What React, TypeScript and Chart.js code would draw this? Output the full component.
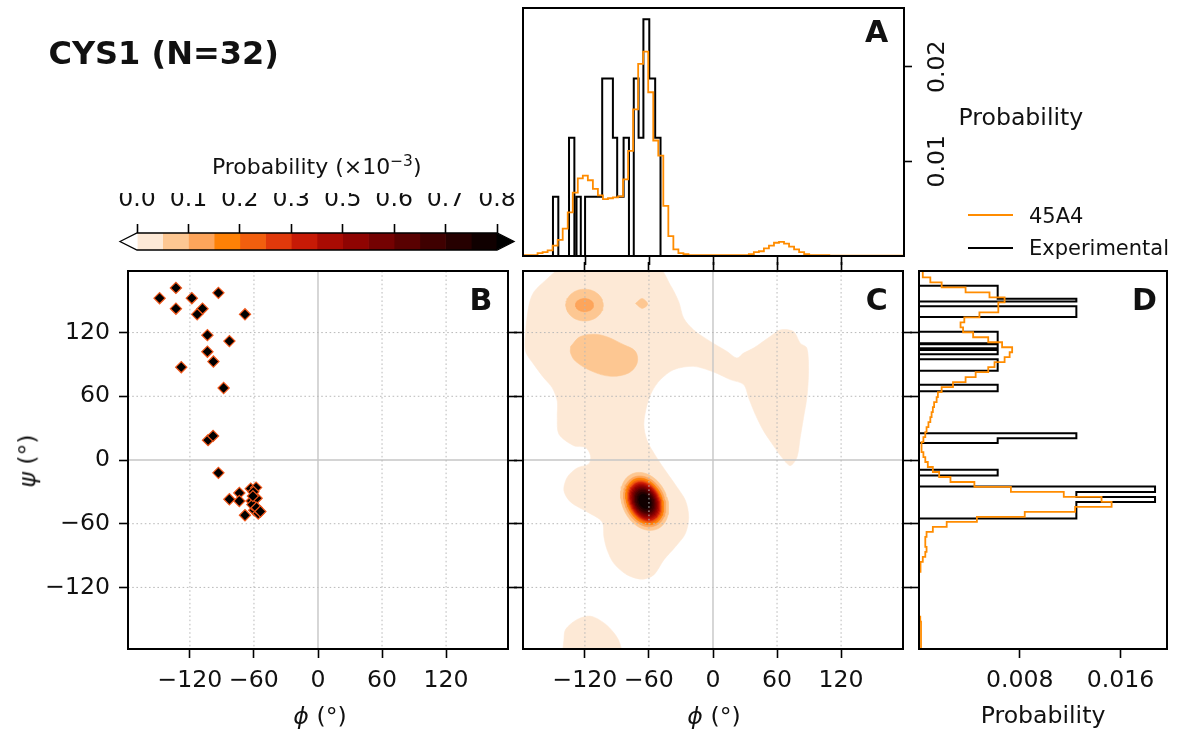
import React, { useEffect, useRef } from "react";
import { Chart, registerables } from "chart.js";

Chart.register(...registerables);

const FONT = "'DejaVu Sans', 'Noto Sans', sans-serif";
const PAGE_W = 1179;
const PAGE_H = 737;
const TEXT_SIZE = 23.6;

// ---------------- data ----------------
const ANGLE_TICKS = [-120, -60, 0, 60, 120];
const ANGLE_TICK_LABELS = ["−120", "−60", "0", "60", "120"];
const ANGLE_MIN = -178;
const ANGLE_MAX = 178;

const A_PROB_TICKS = [0.01, 0.02];
const A_PROB_LABELS = ["0.01", "0.02"];
const A_PROB_MAX = 0.0262;
const D_PROB_TICKS = [0.008, 0.016];
const D_PROB_LABELS = ["0.008", "0.016"];
const D_PROB_MAX = 0.0197;

// Experimental phi histogram (bin edges, probability per bin)
const PHI_EXP_EDGES = [-150, -145, -135, -130, -128, -124, -120, -104, -94, -90, -84, -79, -74.5, -70, -65.5, -60, -54.5, -49.5];
const PHI_EXP_VALUES = [0.00625, 0, 0.0125, 0, 0.00625, 0, 0.00625, 0.01875, 0.0125, 0.00625, 0.0125, 0, 0.01875, 0.0125, 0.025, 0.01875, 0.0125];

// 45A4 phi histogram (uniform bins)
const PHI_SIM_START = -178.5;
const PHI_SIM_WIDTH = 4.7;
const PHI_SIM_VALUES = [
  0.0001, 0.0001, 0.0001, 0.0003, 0.0004, 0.0006, 0.0011, 0.0017, 0.0029, 0.0046,
  0.0067, 0.0082, 0.0085, 0.008, 0.0071, 0.0064, 0.006, 0.0061, 0.0062, 0.0063,
  0.0081, 0.0111, 0.0155, 0.0203, 0.0216, 0.0173, 0.0122, 0.0106, 0.0053, 0.0021,
  0.0007, 0.0003, 0.0002, 0.0001, 0.0001, 0.0001, 0.0001, 0.0001, 0.0001, 0.0001,
  0.0001, 0.0001, 0.0001, 0.0001, 0.0001, 0.0002, 0.0004, 0.0005, 0.0008, 0.0011,
  0.0014, 0.0015, 0.0013, 0.001, 0.0007, 0.0004, 0.0002, 0.0001, 0.0001, 0.0001,
  0.0001, 0.00003, 0.00003, 0.00003, 0.00003, 0.00003, 0.00003, 0.00003, 0.00003, 0.00003,
  0.00003, 0.00003, 0.00003, 0.00003, 0.00003, 0.00003,
];

// Experimental psi histogram
const PSI_EXP_EDGES = [-55.1, -39.5, -34.8, -30.2, -24.9, -14.6, -9.3, 15.9, 20.5, 25.2, 64.7, 70.9, 84, 94.9, 99.6, 103.6, 105.2, 108.9, 109.9, 120.7, 134.6, 144.9, 149.3, 151.8, 164.2];
const PSI_EXP_VALUES = [0.0125, 0.01875, 0.0125, 0.01875, 0, 0.00625, 0, 0.00625, 0.0125, 0, 0.00625, 0, 0.00625, 0, 0.00625, 0, 0.00625, 0, 0.00625, 0, 0.0125, 0, 0.0125, 0.00625];

// 45A4 psi histogram (uniform bins)
const PSI_SIM_START = -180.5;
const PSI_SIM_WIDTH = 4.7;
const PSI_SIM_VALUES = [
  0.00016, 0.00016, 0.00016, 0.00016, 0.00016, 0.00016, 0.0001, 0, 0, 0,
  0, 0, 0, 0, 0, 0.00005, 0.0001, 0.00013, 0.0003, 0.0005,
  0.0006, 0.0005, 0.0005, 0.0006, 0.0011, 0.0022, 0.0046, 0.0084, 0.0124, 0.0153,
  0.0145, 0.0115, 0.0073, 0.0044, 0.0025, 0.0016, 0.0011, 0.0007, 0.0005, 0.00035,
  0.0002, 0.0002, 0.00035, 0.0005, 0.0006, 0.00075, 0.0009, 0.001, 0.0011, 0.0012,
  0.0014, 0.0015, 0.0018, 0.0027, 0.0037, 0.0045, 0.0055, 0.006, 0.0068, 0.0072,
  0.0074, 0.0066, 0.0055, 0.0043, 0.0035, 0.0033, 0.0036, 0.0048, 0.0063, 0.0063,
  0.0068, 0.0056, 0.0037, 0.0018, 0.0009, 0.0003, 0.0003,
];

// Experimental (phi, psi) points, N = 32
const EXP_PHI = [-148.4, -133.1, -133.1, -118.2, -93.3, -108.2, -113.2, -68.4, -103.6, -83.0, -103.6, -98.0, -128.1, -88.4, -103.0, -98.3, -93.3, -63.0, -58.0, -73.7, -73.7, -83.0, -62.2, -57.5, -59.7, -56.0, -68.4, -60.5, -61.5, -57.5, -54.0, -61.0];
const EXP_PSI = [152.4, 162.1, 142.5, 152.4, 157.4, 142.5, 137.2, 137.2, 117.6, 112.0, 102.0, 92.7, 87.4, 67.8, 18.7, 22.7, -12.1, -27.0, -26.0, -31.1, -38.6, -37.0, -38.6, -36.0, -47.3, -50.4, -52.0, -30.0, -42.0, -45.0, -48.5, -34.0];

// Colour levels (probability ×10^-3)
const CB_LEVELS = [0, 0.0571, 0.1143, 0.1714, 0.2286, 0.2857, 0.3429, 0.4, 0.4571, 0.5143, 0.5714, 0.6286, 0.6857, 0.7429, 0.8];
const CB_COLORS = ["#fde9d6", "#fdc792", "#fda55b", "#fe8106", "#f25f0e", "#e0390b", "#c71a06", "#a90b03", "#8f0402", "#740202", "#590101", "#3f0000", "#260000", "#100000"];
const CB_TICK_VALUES = [0, 0.1143, 0.2286, 0.3429, 0.4571, 0.5714, 0.6857, 0.8];
const CB_TICK_LABELS = ["0.0", "0.1", "0.2", "0.3", "0.5", "0.6", "0.7", "0.8"];

// Contour regions of panel C, [phi, psi] outlines
const C_L1_MAIN: [number, number][] = [
  [-142.8, 182], [-52.4, 182], [-39.9, 164.6], [-32.1, 149], [-27.4, 133.4], [-18.1, 122.5], [-2.5, 111.6],
  [13.1, 102.2], [22.4, 96], [28.7, 100.7], [38, 105.4], [53.6, 116.3], [63, 122.5], [75.4, 121], [81.7, 110],
  [87.9, 105.4], [89.5, 83.5], [87.9, 58.6], [84.8, 39.9], [81.7, 21.2], [78.6, 2.5], [72.3, -5.3], [64.5, 2.5],
  [56.7, 13.4], [47.4, 27.4], [39.6, 43], [33.4, 58.6], [28.7, 71.1], [16.2, 75.7], [0.6, 82.9], [-18.1, 88.2],
  [-36.8, 85.1], [-49.3, 75.7], [-57, 64.8], [-61.7, 52.4], [-64.8, 33.7], [-61.7, 18.1], [-53.9, 4.1],
  [-44.6, -10], [-33.7, -25.6], [-25.9, -38], [-22.8, -53.6], [-25.9, -69.2], [-35.2, -81.7], [-46.1, -94.1],
  [-55.5, -108.2], [-66.4, -112.2], [-80.4, -108.2], [-92.9, -97.3], [-99.1, -84.8], [-102.2, -72.3],
  [-103.8, -58.3], [-117.8, -48.9], [-133.4, -39.6], [-139.7, -28.7], [-136.5, -16.2], [-127.2, -7.5],
  [-116.3, -3.7], [-114.7, 4.1], [-119.4, 11.8], [-130.3, 13.4], [-144.3, 24.3], [-145.9, 39.9], [-145.9, 55.5],
  [-150.6, 68], [-158.4, 77.3], [-167.7, 89.8], [-175.5, 102.2], [-175.5, 120.9], [-172.4, 145.9],
  [-167.7, 158.4], [-155.2, 170.8], [-142.8, 182],
];
const C_L1_BOTTOM: [number, number][] = [
  [-141, -182], [-139.7, -170], [-138.1, -159.6], [-127.2, -150.2], [-114.7, -147.1], [-102.2, -153.4],
  [-92.9, -162.7], [-87.5, -172], [-86.7, -182], [-141, -182],
];
const C_L2_BLOB: [number, number][] = [
  [-133.4, 106.9], [-124.1, 116.3], [-105.4, 117.8], [-83.5, 108.5], [-72.6, 102.2], [-71.1, 91.3],
  [-78.9, 82], [-96, 78.9], [-113.2, 83.5], [-128.7, 92.9], [-133.4, 100.7], [-133.4, 106.9],
];
const C_L2_SMALL: [number, number][] = [[-72.6, 147.4], [-66.4, 152.1], [-61.1, 146.8], [-66.4, 142.8], [-72.6, 147.4]];

// Elliptic contour rings (level, centre, semi-axes, tilt)
const C_ELL_LEVEL = [2, 3, 2, 3, 4, 5, 6, 7, 8, 9, 10, 11, 12, 13, 14];
const C_ELL_PHI = [-120.3, -120.3, -64, -64, -64, -64, -64, -64, -64, -64, -64, -64, -64, -64, -64];
const C_ELL_PSI = [145.9, 145.9, -39, -39, -39, -39, -39, -39, -39, -39, -39, -39, -39, -39, -39];
const C_ELL_RPHI = [17.5, 8.4, 21, 18.5, 16.5, 15, 14, 13, 12, 11, 10, 9, 8, 6.5, 5];
const C_ELL_RPSI = [15, 6.2, 28.5, 25, 23, 21, 19.5, 18.5, 17, 15.5, 14, 12.5, 11, 9, 7];
const C_ELL_TILT = [0, 0, 25, 25, 25, 25, 25, 25, 25, 25, 25, 25, 25, 25, 25];

const SIM_COLOR = "#ff8c00";
const EXP_COLOR = "#000000";

// ---------------- helpers ----------------
type Box = { l: number; t: number; r: number; b: number };
type Sides = { l: number; t: number; r: number; b: number };

const fixSize = (size: number) => (s: any) => {
  if (s.isHorizontal()) s.height = size;
  else s.width = size;
  s.paddingTop = 0;
  s.paddingBottom = 0;
  s.paddingLeft = 0;
  s.paddingRight = 0;
};

interface AxisOpts {
  axis: "x" | "y";
  position: string;
  min: number;
  max: number;
  ticks: number[];
  labels?: string[];
  size: number;
  tickLength?: number;
  padding?: number;
  rotate?: number;
  crossAlign?: string;
}

function makeAxis(o: AxisOpts): any {
  return {
    type: "linear",
    axis: o.axis,
    position: o.position,
    min: o.min,
    max: o.max,
    afterBuildTicks: (s: any) => {
      s.ticks = o.ticks.map((v) => ({ value: v }));
    },
    afterFit: fixSize(o.size),
    grid: {
      display: true,
      drawOnChartArea: false,
      drawTicks: true,
      tickLength: o.tickLength ?? 9,
      tickWidth: 1.6,
      tickColor: "#000",
      color: "rgba(0,0,0,0)",
    },
    border: { display: false },
    ticks: {
      display: !!o.labels,
      autoSkip: false,
      maxRotation: o.rotate ?? 0,
      minRotation: o.rotate ?? 0,
      padding: o.padding ?? 10,
      crossAlign: o.crossAlign ?? "near",
      color: "#111",
      font: { family: FONT, size: TEXT_SIZE },
      callback: (_v: any, i: number) => (o.labels ? o.labels[i] : ""),
    },
  };
}

function baseOptions(box: Box, sides: Sides): any {
  return {
    animation: false,
    responsive: false,
    maintainAspectRatio: false,
    devicePixelRatio: 1,
    events: [],
    layout: {
      autoPadding: false,
      padding: {
        left: box.l - sides.l,
        right: PAGE_W - box.r - sides.r,
        top: box.t - sides.t,
        bottom: PAGE_H - box.b - sides.b,
      },
    },
    elements: { point: { radius: 0, hoverRadius: 0, hitRadius: 0 }, line: { tension: 0 } },
    plugins: { legend: { display: false }, tooltip: { enabled: false }, title: { display: false } },
  };
}

function uniformEdges(start: number, width: number, n: number): number[] {
  const e: number[] = [];
  for (let i = 0; i <= n; i++) e.push(start + i * width);
  return e;
}

function stepPoints(edges: number[], vals: number[]) {
  const pts: { x: number; y: number }[] = [{ x: edges[0], y: 0 }];
  vals.forEach((v, i) => {
    pts.push({ x: edges[i], y: v });
    pts.push({ x: edges[i + 1], y: v });
  });
  pts.push({ x: edges[edges.length - 1], y: 0 });
  return pts;
}

function ellipsePoints(cx: number, cy: number, rx: number, ry: number, tiltDeg: number, n = 72) {
  const t = (tiltDeg * Math.PI) / 180;
  const pts: { x: number; y: number }[] = [];
  for (let i = 0; i <= n; i++) {
    const th = (2 * Math.PI * i) / n;
    const ex = rx * Math.cos(th);
    const ey = ry * Math.sin(th);
    pts.push({ x: cx + ex * Math.cos(t) - ey * Math.sin(t), y: cy + ex * Math.sin(t) + ey * Math.cos(t) });
  }
  return pts;
}

function drawAngleGrid(chart: any) {
  const { ctx, chartArea: a, scales } = chart;
  const xs = scales.x;
  const ys = scales.y;
  ctx.save();
  ctx.beginPath();
  ctx.rect(a.left, a.top, a.right - a.left, a.bottom - a.top);
  ctx.clip();
  for (const v of ANGLE_TICKS) {
    const solid = v === 0;
    ctx.setLineDash(solid ? [] : [1.6, 2.6]);
    ctx.strokeStyle = solid ? "#c6c6c6" : "#b9b9b9";
    ctx.lineWidth = solid ? 1.4 : 1;
    const px = xs.getPixelForValue(v);
    const py = ys.getPixelForValue(v);
    ctx.beginPath();
    ctx.moveTo(px, a.top);
    ctx.lineTo(px, a.bottom);
    ctx.moveTo(a.left, py);
    ctx.lineTo(a.right, py);
    ctx.stroke();
  }
  ctx.restore();
}

const framePlugin = {
  id: "frame",
  beforeDatasetsDraw(chart: any, _a: any, opts: any) {
    if (opts && opts.grid === "below") drawAngleGrid(chart);
  },
  afterDatasetsDraw(chart: any, _a: any, opts: any) {
    if (opts && opts.grid === "above") drawAngleGrid(chart);
    if (opts && opts.box) {
      const { ctx, chartArea: a } = chart;
      ctx.save();
      ctx.strokeStyle = "#000";
      ctx.lineWidth = 2;
      ctx.strokeRect(a.left, a.top, a.right - a.left, a.bottom - a.top);
      ctx.restore();
    }
  },
};

const colorbarPlugin = {
  id: "cbar",
  afterDatasetsDraw(chart: any, _a: any, opts: any) {
    const { ctx, chartArea: a } = chart;
    const ext = opts.extend;
    const mid = (a.top + a.bottom) / 2;
    ctx.save();
    ctx.beginPath();
    ctx.moveTo(a.left + 0.5, a.top);
    ctx.lineTo(a.left - ext, mid);
    ctx.lineTo(a.left + 0.5, a.bottom);
    ctx.closePath();
    ctx.fillStyle = opts.under;
    ctx.fill();
    ctx.beginPath();
    ctx.moveTo(a.right - 0.5, a.top);
    ctx.lineTo(a.right + ext, mid);
    ctx.lineTo(a.right - 0.5, a.bottom);
    ctx.closePath();
    ctx.fillStyle = opts.over;
    ctx.fill();
    ctx.beginPath();
    ctx.moveTo(a.left - ext, mid);
    ctx.lineTo(a.left, a.top);
    ctx.lineTo(a.right, a.top);
    ctx.lineTo(a.right + ext, mid);
    ctx.lineTo(a.right, a.bottom);
    ctx.lineTo(a.left, a.bottom);
    ctx.closePath();
    ctx.strokeStyle = "#000";
    ctx.lineWidth = 1.3;
    ctx.stroke();
    ctx.restore();
  },
};

// ---------------- chart configs ----------------
const angleAxis = (axis: "x" | "y", position: string, size: number, labels?: string[]) =>
  makeAxis({ axis, position, min: ANGLE_MIN, max: ANGLE_MAX, ticks: ANGLE_TICKS, labels, size, padding: 9 });

function configA() {
  const box = { l: 523, t: 8, r: 904, b: 256 };
  const opts = baseOptions(box, { l: 0, t: 0, r: 60, b: 10 });
  opts.scales = {
    x: angleAxis("x", "bottom", 10),
    y: makeAxis({ axis: "y", position: "right", min: 0, max: A_PROB_MAX, ticks: A_PROB_TICKS, labels: A_PROB_LABELS, size: 60, tickLength: 8, padding: 0, rotate: 90, crossAlign: "center" }),
  };
  opts.plugins.frame = { box: true };
  return {
    type: "line",
    data: {
      datasets: [
        { label: "45A4", data: stepPoints(uniformEdges(PHI_SIM_START, PHI_SIM_WIDTH, PHI_SIM_VALUES.length), PHI_SIM_VALUES), borderColor: SIM_COLOR, borderWidth: 1.8, fill: false, order: 0 },
        { label: "Experimental", data: stepPoints(PHI_EXP_EDGES, PHI_EXP_VALUES), borderColor: EXP_COLOR, borderWidth: 2, fill: false, order: 1 },
      ],
    },
    options: opts,
    plugins: [framePlugin],
  };
}

function configB() {
  const box = { l: 128, t: 271, r: 508, b: 649 };
  const opts = baseOptions(box, { l: 100, t: 0, r: 10, b: 40 });
  opts.scales = {
    x: angleAxis("x", "bottom", 40, ANGLE_TICK_LABELS),
    y: angleAxis("y", "left", 100, ANGLE_TICK_LABELS),
    yR: angleAxis("y", "right", 10),
  };
  opts.plugins.frame = { box: true, grid: "below" };
  return {
    type: "scatter",
    data: {
      datasets: [
        {
          label: "Experimental",
          data: EXP_PHI.map((x, i) => ({ x, y: EXP_PSI[i] })),
          pointStyle: "rectRot",
          pointRadius: 5.6,
          pointHoverRadius: 5.6,
          backgroundColor: "#000",
          borderColor: "#f0561a",
          borderWidth: 1.2,
        },
      ],
    },
    options: opts,
    plugins: [framePlugin],
  };
}

function configC() {
  const box = { l: 523, t: 271, r: 903, b: 649 };
  const opts = baseOptions(box, { l: 10, t: 10, r: 10, b: 40 });
  opts.indexAxis = "y";
  opts.scales = {
    x: angleAxis("x", "bottom", 40, ANGLE_TICK_LABELS),
    xT: angleAxis("x", "top", 10),
    y: angleAxis("y", "left", 10),
    yR: angleAxis("y", "right", 10),
  };
  opts.plugins.frame = { box: true, grid: "above" };
  const region = (pts: { x: number; y: number }[], level: number, tension: number) => ({
    data: pts,
    fill: "shape",
    backgroundColor: CB_COLORS[level - 1],
    borderColor: CB_COLORS[level - 1],
    borderWidth: 0.6,
    tension,
    pointRadius: 0,
    order: -level,
  });
  const toXY = (arr: [number, number][]) => arr.map(([x, y]) => ({ x, y }));
  const datasets: any[] = [
    region(toXY(C_L1_MAIN), 1, 0.3),
    region(toXY(C_L1_BOTTOM), 1, 0.3),
    region(toXY(C_L2_BLOB), 2, 0.35),
    region(toXY(C_L2_SMALL), 2, 0.3),
  ];
  C_ELL_LEVEL.forEach((lv, i) => {
    datasets.push(region(ellipsePoints(C_ELL_PHI[i], C_ELL_PSI[i], C_ELL_RPHI[i], C_ELL_RPSI[i], C_ELL_TILT[i]), lv, 0));
  });
  return { type: "line", data: { datasets }, options: opts, plugins: [framePlugin] };
}

function configD() {
  const box = { l: 919, t: 271, r: 1167, b: 649 };
  const opts = baseOptions(box, { l: 10, t: 0, r: 0, b: 40 });
  opts.scales = {
    x: makeAxis({ axis: "x", position: "bottom", min: 0, max: D_PROB_MAX, ticks: D_PROB_TICKS, labels: D_PROB_LABELS, size: 40, padding: 9 }),
    y: angleAxis("y", "left", 10),
  };
  opts.plugins.frame = { box: true };
  const swap = (pts: { x: number; y: number }[]) => pts.map((p) => ({ x: p.y, y: p.x }));
  return {
    type: "line",
    data: {
      datasets: [
        { label: "45A4", data: swap(stepPoints(uniformEdges(PSI_SIM_START, PSI_SIM_WIDTH, PSI_SIM_VALUES.length), PSI_SIM_VALUES)), borderColor: SIM_COLOR, borderWidth: 1.8, fill: false, order: 0 },
        { label: "Experimental", data: swap(stepPoints(PSI_EXP_EDGES, PSI_EXP_VALUES)), borderColor: EXP_COLOR, borderWidth: 2, fill: false, order: 1 },
      ],
    },
    options: opts,
    plugins: [framePlugin],
  };
}

function configColorbar() {
  const box = { l: 137, t: 233, r: 497, b: 250 };
  const opts = baseOptions(box, { l: 0, t: 40, r: 0, b: 0 });
  opts.indexAxis = "y";
  opts.scales = {
    x: makeAxis({ axis: "x", position: "top", min: 0, max: 0.8, ticks: CB_TICK_VALUES, labels: CB_TICK_LABELS, size: 40, tickLength: 9, padding: 10 }),
    y: { type: "category", display: false },
  };
  opts.plugins.cbar = { extend: 17, under: "#ffffff", over: "#000000" };
  return {
    type: "bar",
    data: {
      labels: [""],
      datasets: CB_COLORS.map((c, i) => ({
        data: [[CB_LEVELS[i], CB_LEVELS[i + 1]]],
        backgroundColor: c,
        borderWidth: 0,
        grouped: false,
        barPercentage: 1,
        categoryPercentage: 1,
      })),
    },
    options: opts,
    plugins: [colorbarPlugin],
  };
}

// ---------------- components ----------------
function ChartLayer({ make }: { make: () => any }) {
  const ref = useRef<HTMLCanvasElement | null>(null);
  useEffect(() => {
    if (!ref.current) return;
    const chart = new Chart(ref.current, make());
    return () => chart.destroy();
  }, []);
  return (
    <canvas
      ref={ref}
      width={PAGE_W}
      height={PAGE_H}
      style={{ position: "absolute", left: 0, top: 0, width: PAGE_W, height: PAGE_H }}
    />
  );
}

function Txt(props: {
  x: number;
  y: number;
  size?: number;
  bold?: boolean;
  anchor?: "left" | "center";
  rotate?: number;
  children: React.ReactNode;
}) {
  const { x, y, size = TEXT_SIZE, bold = false, anchor = "center", rotate = 0, children } = props;
  const tx = anchor === "center" ? "-50%" : "0";
  return (
    <div
      style={{
        position: "absolute",
        left: x,
        top: y,
        transform: `translate(${tx}, -50%) rotate(${rotate}deg)`,
        fontFamily: FONT,
        fontSize: size,
        fontWeight: bold ? "bold" : "normal",
        lineHeight: 1,
        whiteSpace: "nowrap",
        color: "#111",
      }}
    >
      {children}
    </div>
  );
}

export default function App() {
  return (
    <div style={{ position: "absolute", left: 0, top: 0, width: PAGE_W, height: PAGE_H, background: "#fff", overflow: "hidden" }}>
      <ChartLayer make={configColorbar} />
      <ChartLayer make={configA} />
      <ChartLayer make={configB} />
      <ChartLayer make={configC} />
      <ChartLayer make={configD} />

      <Txt x={48.4} y={52.5} size={32} bold anchor="left">CYS1 (N=32)</Txt>
      <Txt x={876.5} y={32} size={30} bold>A</Txt>
      <Txt x={481} y={299.5} size={30} bold>B</Txt>
      <Txt x={876.7} y={300} size={30} bold>C</Txt>
      <Txt x={1144.5} y={300} size={30} bold>D</Txt>

      <Txt x={958.5} y={117.5} anchor="left">Probability</Txt>

      <div style={{ position: "absolute", left: 968, top: 214, width: 45, height: 2, background: SIM_COLOR }} />
      <div style={{ position: "absolute", left: 968, top: 247, width: 45, height: 2, background: EXP_COLOR }} />
      <Txt x={1029} y={215.5} size={21} anchor="left">45A4</Txt>
      <Txt x={1029} y={248.3} size={21} anchor="left">Experimental</Txt>

      <Txt x={316.7} y={166.7} size={22}>
        Probability (×10<span style={{ fontSize: "0.7em", position: "relative", top: "-0.5em" }}>−3</span>)
      </Txt>

      <Txt x={320} y={717}><i>ϕ</i> (°)</Txt>
      <Txt x={714} y={717}><i>ϕ</i> (°)</Txt>
      <Txt x={1043} y={716}>Probability</Txt>
      <Txt x={28} y={461} rotate={-90}><i>ψ</i> (°)</Txt>
    </div>
  );
}
